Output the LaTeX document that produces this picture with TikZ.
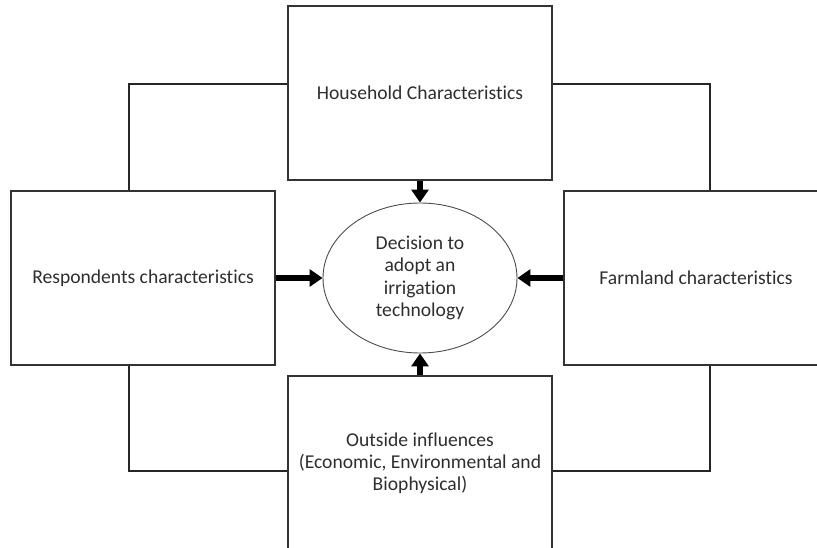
\documentclass[tikz,border=0pt]{standalone}
\usepackage{fontspec}
\setmainfont[Ligatures=NoCommon]{Carlito}
\usetikzlibrary{arrows.meta,shapes.geometric}

\begin{document}
\begin{tikzpicture}[
    x=1pt,
    y=-1pt,
    every node/.style={font=\fontsize{19.6}{22.2}\selectfont, text=black!82},
    factorbox/.style={
        draw=black!80,
        line width=1.3pt,
        minimum width=264pt,
        minimum height=174pt,
        align=center,
        inner sep=0pt
    },
    link/.style={draw=black!85, line width=1.3pt},
    push/.style={
        line width=5.5pt,
        -{Triangle[length=13pt,width=17pt]}
    }
]

% ============================================================
% Rahmen (Bild ist am Rand abgeschnitten)
% ============================================================

\useasboundingbox (0,0) rectangle (817,548);
\clip (0,0) rectangle (817,548);

% ============================================================
% Entscheidung in der Mitte
% ============================================================

\node[
    ellipse,
    draw=black!70,
    line width=0.9pt,
    minimum width=194pt,
    minimum height=150pt,
    inner sep=0pt,
    align=center
] (decision) at (420,278)
    {Decision to\\adopt an\\irrigation\\technology};

% ============================================================
% Einflussfaktoren
% ============================================================

\node[factorbox] (household) at (420,93)
    {Household Characteristics};

\node[factorbox] (respondent) at (143,278)
    {Respondents characteristics};

\node[factorbox] (farmland) at (696,278)
    {Farmland characteristics};

\node[factorbox] (outside) at (420,463)
    {Outside influences\\
     (Economic, Environmental and\\
     Biophysical)};

% ============================================================
% Verbindungslinien zwischen den Kästen
% ============================================================

\coordinate (bendTL) at (129,84);
\coordinate (bendTR) at (710,84);
\coordinate (bendBL) at (129,471);
\coordinate (bendBR) at (710,471);

\draw[link] (household.west |- bendTL) -- (bendTL)
    -- (respondent.north -| bendTL);
\draw[link] (household.east |- bendTR) -- (bendTR)
    -- (farmland.north -| bendTR);
\draw[link] (respondent.south -| bendBL) -- (bendBL)
    -- (outside.west |- bendBL);
\draw[link] (farmland.south -| bendBR) -- (bendBR)
    -- (outside.east |- bendBR);

% ============================================================
% Pfeile zur Entscheidung
% ============================================================

\draw[push] (household.south) -- (decision.north);
\draw[push] (respondent.east) -- (decision.west);
\draw[push] (farmland.west) -- (decision.east);
\draw[push] (outside.north) -- (decision.south);

\end{tikzpicture}
\end{document}
